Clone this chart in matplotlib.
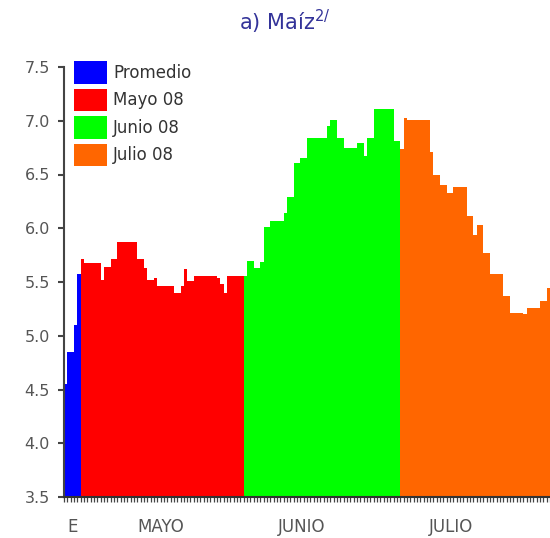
import matplotlib
matplotlib.use("Agg")
from matplotlib import pyplot as plt
from matplotlib.patches import Patch

# precios diarios
promedio = [4.55, 4.85, 4.85, 5.10, 5.57]
mayo = [5.71, 5.68, 5.68, 5.68, 5.68, 5.68, 5.52, 5.64, 5.64, 5.71,
        5.71, 5.87, 5.87, 5.87, 5.87, 5.87, 5.87, 5.71, 5.71, 5.63,
        5.52, 5.52, 5.54, 5.46, 5.46, 5.46, 5.46, 5.46, 5.40, 5.40,
        5.46, 5.62, 5.51, 5.51, 5.56, 5.56, 5.56, 5.56, 5.56, 5.56,
        5.56, 5.54, 5.48, 5.40, 5.56, 5.56, 5.56, 5.56, 5.56]
junio = [5.56, 5.70, 5.70, 5.63, 5.63, 5.69, 6.01, 6.01, 6.07, 6.07,
         6.07, 6.07, 6.14, 6.29, 6.29, 6.61, 6.61, 6.65, 6.65, 6.84,
         6.84, 6.84, 6.84, 6.84, 6.84, 6.95, 7.01, 7.01, 6.84, 6.84,
         6.75, 6.75, 6.75, 6.75, 6.79, 6.79, 6.67, 6.84, 6.84, 7.11,
         7.11, 7.11, 7.11, 7.11, 7.11, 6.81, 6.81]
julio = [6.74, 7.03, 7.01, 7.01, 7.01, 7.01, 7.01, 7.01, 7.01, 6.71,
         6.50, 6.50, 6.40, 6.40, 6.33, 6.33, 6.38, 6.38, 6.38, 6.38,
         6.11, 6.11, 5.94, 6.03, 6.03, 5.77, 5.77, 5.57, 5.57, 5.57,
         5.57, 5.37, 5.37, 5.21, 5.21, 5.21, 5.21, 5.20, 5.26, 5.26,
         5.26, 5.26, 5.32, 5.32, 5.44]

series = [promedio, mayo, junio, julio]
nombres = ["Promedio", "Mayo 08", "Junio 08", "Julio 08"]
colores = ["#0000ff", "#ff0000", "#00ff00", "#ff6600"]
etiquetas_x = ["E", "MAYO", "JUNIO", "JULIO"]
pos_etiquetas = [2.6, 29.2, 71.4, 116.2]

fig = plt.figure(figsize=(5.5, 5.38), dpi=100)
ax = fig.add_axes([64/550, 41/538, 486/550, 430/538])

inicio = 0
for vals, col in zip(series, colores):
    xs = range(inicio, inicio + len(vals))
    ax.bar(list(xs), [v - 3.5 for v in vals], bottom=3.5, width=1.0, align='edge',
           color=col, linewidth=0, antialiased=False)
    inicio += len(vals)

ax.set_xlim(0, inicio)
ax.set_ylim(3.5, 7.5)
ax.set_yticks([3.5, 4.0, 4.5, 5.0, 5.5, 6.0, 6.5, 7.0, 7.5])
ax.set_yticklabels(["%.1f" % v for v in ax.get_yticks()])

# ticks: uno por barra, etiquetas de mes aparte
ax.set_xticks(range(0, inicio + 1), minor=True)
ax.set_xticks(pos_etiquetas)
ax.set_xticklabels(etiquetas_x)
ax.tick_params(axis='x', which='minor', length=3.5, width=0.9, color='#444444', direction='out')
ax.tick_params(axis='x', which='major', length=0, pad=15, labelsize=12, labelcolor='#555555')
ax.tick_params(axis='y', length=4, width=1.5, color='#444444', labelsize=11.5,
               labelcolor='#555555', pad=6)

for s in ['top', 'right']:
    ax.spines[s].set_visible(False)
ax.spines['left'].set_color('#444444')
ax.spines['left'].set_linewidth(1.5)
ax.spines['bottom'].set_color('#333333')
ax.spines['bottom'].set_linewidth(1.5)

handles = [Patch(facecolor=c, edgecolor='none') for c in colores]
fig.legend(handles, nombres, loc='upper left', bbox_to_anchor=(74/550, 1 - 61/538),
           frameon=False, fontsize=12, handlelength=2.0, handleheight=1.7,
           labelspacing=0.3, handletextpad=0.35, borderpad=0, borderaxespad=0,
           labelcolor='#333333')

fig.text(285/550, 1 - 22/538, "a) Maíz$^{2/}$", ha='center', va='center',
         fontsize=15, color='#333399')

plt.savefig('out.png', dpi=100)
